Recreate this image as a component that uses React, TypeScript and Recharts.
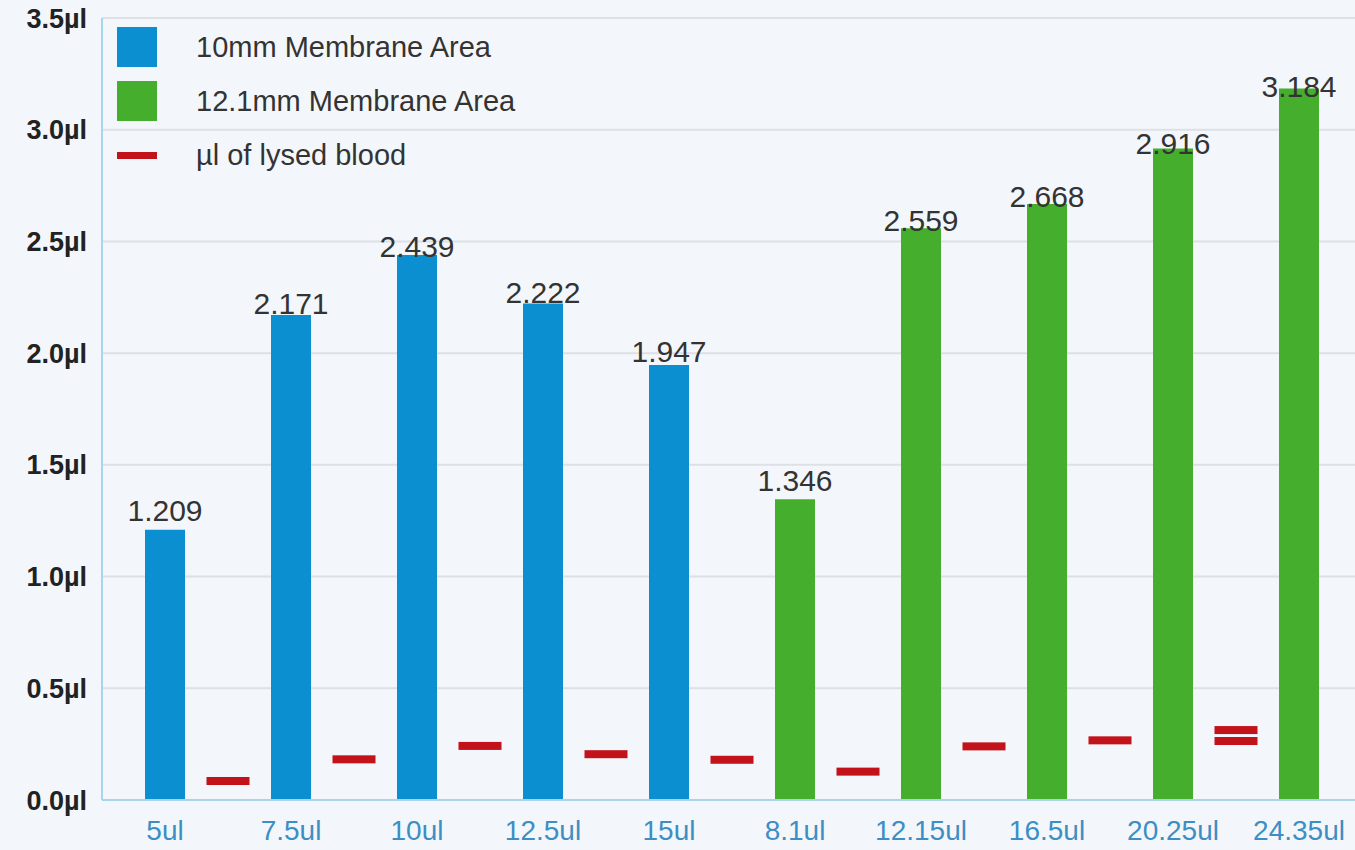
import {
  ComposedChart,
  Bar,
  Scatter,
  XAxis,
  YAxis,
  CartesianGrid,
  LabelList,
} from 'recharts'

// sample volumes on the x axis
const CATEGORIES = ['5ul', '7.5ul', '10ul', '12.5ul', '15ul', '8.1ul', '12.15ul', '16.5ul', '20.25ul', '24.35ul']
// 10mm membrane (first five) and 12.1mm membrane (last five), in µl
const SMALL = [1.209, 2.171, 2.439, 2.222, 1.947, null, null, null, null, null]
const LARGE = [null, null, null, null, null, 1.346, 2.559, 2.668, 2.916, 3.184]
// lysed blood markers sit between bars (x = slot position)
const LYSED_X = [0.5, 1.5, 2.5, 3.5, 4.5, 5.5, 6.5, 7.5, 8.5, 8.5]
const LYSED = [0.085, 0.182, 0.242, 0.205, 0.18, 0.127, 0.24, 0.267, 0.264, 0.313]
const Y_TICKS = [0, 0.5, 1, 1.5, 2, 2.5, 3, 3.5]

const BLUE = '#0c8fd0'
const GREEN = '#45ae2d'
const RED = '#c2121a'
const FONT = '"Liberation Sans", Arial, sans-serif'

const LEGEND = [
  { name: '10mm Membrane Area', color: BLUE, kind: 'box' },
  { name: '12.1mm Membrane Area', color: GREEN, kind: 'box' },
  { name: 'µl of lysed blood', color: RED, kind: 'dash' },
]

const data = CATEGORIES.map((c, i) => ({ cat: c, small: SMALL[i], large: LARGE[i] }))
const lysed = LYSED.map((y, i) => ({ x: LYSED_X[i], y }))

const ValueLabel = (props: any) => {
  const { x, y, width, value } = props
  if (value == null) return null
  const lift = 10 - 8.7 * (value - 2.27)
  return (
    <text
      x={x + width / 2}
      y={y - lift + 10}
      textAnchor="middle"
      fill="#333"
      fontSize={30}
      fontFamily={FONT}
    >
      {value.toFixed(3)}
    </text>
  )
}

const Dash = (props: any) => (
  <rect x={props.cx - 21.5} y={props.cy - 4} width={43} height={8} fill={RED} />
)

const LegendBox = () => (
  <div
    style={{
      position: 'absolute',
      left: 117,
      top: 20,
      fontFamily: FONT,
      fontSize: 29,
      color: '#333',
    }}
  >
    {LEGEND.map((l) => (
      <div key={l.name} style={{ display: 'flex', alignItems: 'center', height: 54 }}>
        <div style={{ width: 40, height: 40, display: 'flex', alignItems: 'center' }}>
          <div style={{ width: 40, height: l.kind === 'box' ? 40 : 7, background: l.color }} />
        </div>
        <span style={{ marginLeft: 39 }}>{l.name}</span>
      </div>
    ))}
  </div>
)

export default function App() {
  return (
    <div
      style={{
        position: 'fixed',
        left: 0,
        top: 0,
        width: 1355,
        height: 850,
        overflow: 'hidden',
        background: '#f3f7fb',
      }}
    >
      <ComposedChart
        width={1370}
        height={850}
        data={data}
        margin={{ top: 18, right: 8, left: 0, bottom: 0 }}
      >
        <CartesianGrid vertical={false} stroke="#dde1e6" strokeWidth={2} />
        <XAxis
          dataKey="cat"
          height={50}
          tickLine={false}
          tickSize={0}
          tickMargin={20}
          axisLine={{ stroke: '#a8d4ec', strokeWidth: 2 }}
          tick={{ fill: '#3d8ec4', fontSize: 28, fontFamily: FONT }}
          interval={0}
        />
        <XAxis xAxisId="pos" type="number" dataKey="x" domain={[-0.5, 9.5]} hide />
        <YAxis
          width={102}
          domain={[0, 3.5]}
          ticks={Y_TICKS}
          tickFormatter={(v: number) => v.toFixed(1) + 'µl'}
          tickLine={false}
          tickSize={0}
          tickMargin={15}
          axisLine={{ stroke: '#a8d4ec', strokeWidth: 2 }}
          tick={{ fill: '#222', fontSize: 27, fontWeight: 'bold', fontFamily: FONT }}
          interval={0}
        />
        <YAxis yAxisId="pos" dataKey="y" domain={[0, 3.5]} hide />
        <Bar dataKey="small" stackId="a" fill={BLUE} barSize={40} isAnimationActive={false}>
          <LabelList dataKey="small" content={<ValueLabel />} />
        </Bar>
        <Bar dataKey="large" stackId="a" fill={GREEN} barSize={40} isAnimationActive={false}>
          <LabelList dataKey="large" content={<ValueLabel />} />
        </Bar>
        <Scatter
          data={lysed}
          xAxisId="pos"
          yAxisId="pos"
          dataKey="y"
          shape={<Dash />}
          legendType="none"
          isAnimationActive={false}
        />
      </ComposedChart>
      <LegendBox />
    </div>
  )
}
